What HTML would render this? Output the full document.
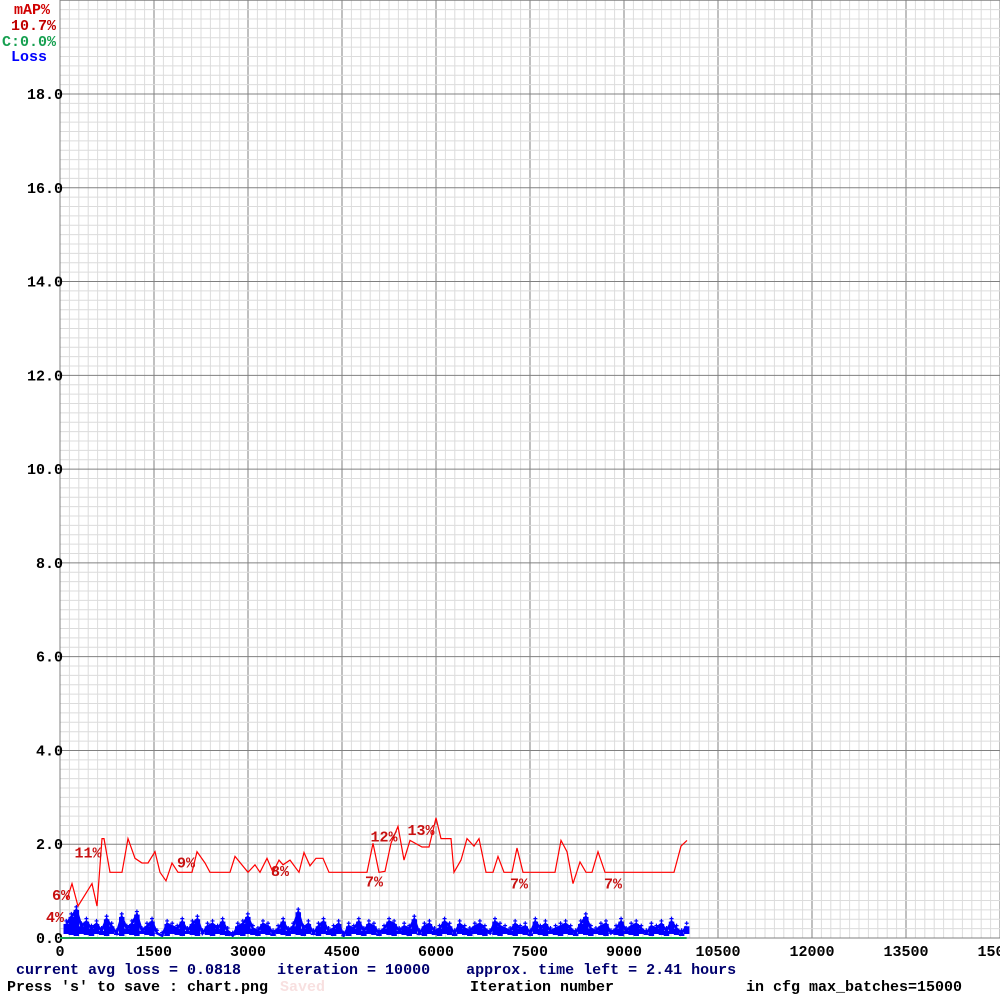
<!DOCTYPE html>
<html><head><meta charset="utf-8"><style>
body{margin:0;background:#fff;}
svg{display:block;}
text{font-family:"Liberation Mono",monospace;font-weight:bold;}
</style></head><body>
<svg id="chart" width="1000" height="1000" viewBox="0 0 1000 1000">
<g id="grid"></g>
<g id="axes"></g>
<g id="series"></g>
<g>
<text x="14" y="14" font-size="15" fill="#d00000">mAP%</text>
<text x="11" y="30" font-size="15" fill="#c00000">10.7%</text>
<text x="2" y="46" font-size="15" fill="#16a050">C:0.0%</text>
<text x="11" y="61" font-size="15" fill="#0000ff">Loss</text>
</g>
<text x="16" y="974" font-size="15" fill="#00006e" xml:space="preserve">current avg loss = 0.0818    iteration = 10000    approx. time left = 2.41 hours</text>
<text x="7" y="991" font-size="15" fill="#000">Press 's' to save : chart.png</text>
<text x="280" y="991" font-size="15" fill="#f8e0e0">Saved</text>
<text x="470" y="991" font-size="15" fill="#000">Iteration number</text>
<text x="746" y="991" font-size="15" fill="#000">in cfg max_batches=15000</text>
</svg>
<script>
const xTicks=[0,1500,3000,4500,6000,7500,9000,10500,12000,13500,15000];
const yTicks=["0.0","2.0","4.0","6.0","8.0","10.0","12.0","14.0","16.0","18.0"];
const mapIters=[112,191,287,511,590,670,702,798,989,1085,1197,1308,1404,1516,1596,1691,1787,1883,2106,2186,2314,2394,2713,2793,3000,3112,3191,3303,3399,3495,3558,3670,3814,3893,3989,4085,4197,4293,4899,4995,5090,5186,5282,5394,5489,5585,5777,5888,5968,6000,6080,6239,6287,6399,6495,6606,6686,6798,6909,6989,7085,7213,7293,7388,7899,7995,8090,8186,8298,8394,8489,8585,8697,9798,9910,10005];
const mapVals=[4.1,5.8,3.4,5.8,3.4,10.6,10.6,7.0,7.0,10.6,8.5,8.0,8.0,9.2,7.0,6.1,8.0,7.0,7.0,9.2,8.0,7.0,7.0,8.7,7.0,7.8,7.0,8.5,7.0,8.3,7.8,8.3,7.0,9.1,7.7,8.5,8.5,7.0,7.0,10.1,7.0,7.1,10.1,11.9,8.3,10.4,9.7,9.7,11.9,12.8,10.6,10.6,7.0,8.3,10.6,9.8,10.6,7.0,7.0,8.7,7.0,7.0,9.6,7.0,7.0,10.4,9.2,5.8,8.1,7.0,7.0,9.2,7.0,7.0,9.8,10.4];
const mapLabelText=["4%","6%","11%","9%","8%","7%","12%","13%","7%","7%"];
const mapLabelIters=[-80,16,447,2010,3510,5010,5170,5760,7324,8824];
const mapLabelVals=[1.7,4.05,8.6,7.5,6.6,5.5,10.3,11.0,5.3,5.3];
const lossVals=[0.3,0.45,0.6,0.25,0.35,0.2,0.3,0.15,0.4,0.25,0.1,0.45,0.2,0.3,0.5,0.15,0.25,0.35,0.1,0.05,0.3,0.25,0.2,0.35,0.15,0.3,0.4,0.1,0.25,0.3,0.2,0.35,0.15,0.05,0.25,0.3,0.45,0.2,0.15,0.3,0.25,0.1,0.2,0.35,0.15,0.25,0.55,0.2,0.3,0.1,0.25,0.35,0.15,0.2,0.3,0.05,0.25,0.2,0.35,0.15,0.3,0.25,0.1,0.2,0.35,0.3,0.15,0.25,0.2,0.4,0.1,0.25,0.3,0.15,0.2,0.35,0.25,0.1,0.3,0.2,0.15,0.25,0.3,0.2,0.1,0.35,0.25,0.2,0.15,0.3,0.2,0.25,0.1,0.35,0.2,0.3,0.15,0.2,0.25,0.3,0.2,0.1,0.3,0.45,0.2,0.15,0.25,0.3,0.1,0.2,0.35,0.15,0.25,0.3,0.2,0.1,0.25,0.2,0.3,0.15,0.35,0.2,0.1,0.25];
const lossStart=100, lossEnd=10000;

const NS="http://www.w3.org/2000/svg";
const X0=60,X1=1000,Y0=938,Ytop=94;
const xS=it=>X0+it/15000*(X1-X0);
const yS=v=>Y0-v/18*(Y0-Ytop);
const yM=m=>Y0-m/100*Y0;
function mk(tag,parent,attrs){const e=document.createElementNS(NS,tag);for(const k in attrs)e.setAttribute(k,attrs[k]);parent.appendChild(e);return e;}
const grid=document.getElementById('grid'),axes=document.getElementById('axes'),series=document.getElementById('series');
for(let i=0;i<=100;i++){const x=xS(i*150);
 const l=mk('line',grid,{x1:x,x2:x,y1:0,y2:Y0,stroke:i%10?'#dcdcdc':'#808080','stroke-width':1});
 
 }
for(let i=0;i<=100;i++){const y=yS(i*0.2);if(y<0)break;
 const l=mk('line',grid,{x1:X0,x2:X1,y1:y,y2:y,stroke:i%10?'#dcdcdc':'#808080','stroke-width':1});
 
 }
const ax=mk('line',axes,{x1:X0,x2:X0,y1:0,y2:Y0,stroke:'#808080'});


xTicks.forEach(t=>{const e=mk('text',axes,{x:xS(t),y:956,'font-size':15,'text-anchor':'middle',fill:'#000'});e.textContent=t;
 
 });
yTicks.forEach(t=>{const e=mk('text',axes,{x:63,y:yS(parseFloat(t))+5,'font-size':15,'text-anchor':'end',fill:'#000'});e.textContent=t;
 
 });
const step=(lossEnd-lossStart)/(lossVals.length-1);
const lp=lossVals.map((v,i)=>xS(lossStart+i*step).toFixed(1)+','+yS(v).toFixed(1)).join(' ');
const pl=mk('polyline',series,{points:lp,fill:'none',stroke:'#0000ff','stroke-width':2.5,'stroke-linejoin':'miter'});


lossVals.forEach((v,i)=>{const x=xS(lossStart+i*step),y=yS(v);
 const b=mk('line',series,{x1:x,x2:x,y1:y,y2:Y0-3+((i%3)-1),stroke:'#0000ff','stroke-width':5.5});
 
 
 const p=mk('path',series,{d:`M${x-2},${y-3}h4M${x},${y-5}v4`,stroke:'#0000ff','stroke-width':1.2});
 
 });
const cl=mk('line',series,{x1:xS(0),x2:xS(lossEnd),y1:Y0,y2:Y0,stroke:'#16a050','stroke-width':2});


const mp=mapIters.map((it,i)=>xS(it).toFixed(1)+','+yM(mapVals[i]).toFixed(1)).join(' ');
const ml=mk('polyline',series,{points:mp,fill:'none',stroke:'#ff0000','stroke-width':1.2});


mapLabelText.forEach((t,i)=>{const e=mk('text',series,{x:xS(mapLabelIters[i]),y:yM(mapLabelVals[i]),'font-size':15,fill:'#c81010','text-anchor':'middle'});e.textContent=t;
 
 });
</script>
</body></html>
